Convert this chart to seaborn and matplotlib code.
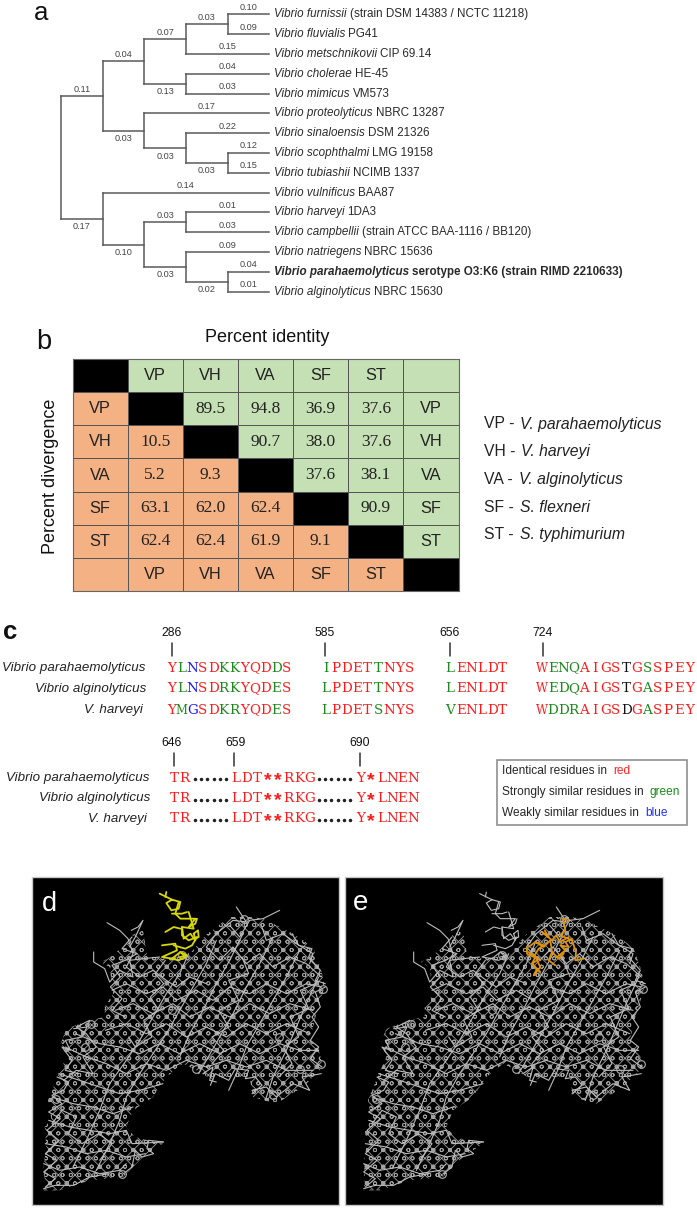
import matplotlib
matplotlib.use("Agg")
import matplotlib.pyplot as plt
from matplotlib.colors import ListedColormap
from matplotlib.patches import Polygon, Rectangle
import numpy as np
import seaborn as sns

# panel a
SPECIES = ["Vibrio furnissii", "Vibrio fluvialis", "Vibrio metschnikovii", "Vibrio cholerae",
           "Vibrio mimicus", "Vibrio proteolyticus", "Vibrio sinaloensis", "Vibrio scophthalmi",
           "Vibrio tubiashii", "Vibrio vulnificus", "Vibrio harveyi", "Vibrio campbellii",
           "Vibrio natriegens", "Vibrio parahaemolyticus", "Vibrio alginolyticus"]
STRAINS = ["(strain DSM 14383 / NCTC 11218)", "PG41", "CIP 69.14", "HE-45", "VM573", "NBRC 13287",
           "DSM 21326", "LMG 19158", "NCIMB 1337", "BAA87", "1DA3", "(strain ATCC BAA-1116 / BB120)",
           "NBRC 15636", "serotype O3:K6 (strain RIMD 2210633)", "NBRC 15630"]
TREE = ("", [
    ("0.11", [
        ("0.04", [
            ("0.07", [("0.03", [("0.10", 0), ("0.09", 1)]), ("0.15", 2)]),
            ("0.13", [("0.04", 3), ("0.03", 4)])]),
        ("0.03", [
            ("0.17", 5),
            ("0.03", [("0.22", 6), ("0.03", [("0.12", 7), ("0.15", 8)])])])]),
    ("0.17", [
        ("0.14", 9),
        ("0.10", [
            ("0.03", [("0.01", 10), ("0.03", 11)]),
            ("0.03", [("0.09", 12), ("0.02", [("0.04", 13), ("0.01", 14)])])])])])

# panel b
TAXA = ["VP", "VH", "VA", "SF", "ST"]
TAXA_LONG = ["V. parahaemolyticus", "V. harveyi", "V. alginolyticus", "S. flexneri", "S. typhimurium"]
IDENTITY = [["", "89.5", "94.8", "36.9", "37.6"],
            ["", "", "90.7", "38.0", "37.6"],
            ["", "", "", "37.6", "38.1"],
            ["", "", "", "", "90.9"],
            ["", "", "", "", ""]]
DIVERGENCE = [["", "", "", "", ""],
              ["10.5", "", "", "", ""],
              ["5.2", "9.3", "", "", ""],
              ["63.1", "62.0", "62.4", "", ""],
              ["62.4", "62.4", "61.9", "9.1", ""]]

# panel c
NAMES = ["Vibrio parahaemolyticus", "Vibrio alginolyticus", "V. harveyi"]
BLOCKS_TOP = [
    (["YLNSDKKYQDDS", "YLNSDRKYQDES", "YMGSDKRYQDES"],
     ["rgbrrggrrrgr", "rgbrrggrrrgr", "rgbrrggrrrgr"]),
    (["IPDETTNYS", "LPDETTNYS", "LPDETSNYS"],
     ["grrrrgrrr", "grrrrgrrr", "grrrrgrrr"]),
    (["LENLDT", "LENLDT", "VENLDT"],
     ["grrrrr", "grrrrr", "grrrrr"]),
    (["WENQAIGSTGSSPEY", "WEDQAIGSTGASPEY", "WDDRAIGSDGASPEY"],
     ["rgggrrrrkrgrrrr", "rgggrrrrkrgrrrr", "rgggrrrrkrgrrrr"]),
]
BLOCK_STARTS = [166, 320.5, 445, 537]
BOTTOM_PARTS = ["TR", "LDT**RKG", "Y*LNEN"]
TOP_TICKS = [("286", 172), ("585", 325), ("656", 449.5), ("724", 543)]
BOTTOM_TICKS = [("646", 174), ("659", 234), ("690", 360)]
LEGEND_ROWS = [("Identical residues in ", "red", "#ff2020"),
               ("Strongly similar residues in ", "green", "#1a8a1a"),
               ("Weakly similar residues in ", "blue", "#2030ff")]

# panels d and e at 3x, relative to the panel corner
BODY_OUTLINE = [(35, 940), (38, 915), (35, 865), (43, 810), (38, 750), (58, 725), (48, 670), (83, 585),
                (103, 540), (88, 495), (103, 455), (173, 430), (218, 420), (218, 390), (243, 350),
                (233, 270), (205, 255), (228, 245), (293, 195), (300, 175), (333, 160), (345, 235),
                (390, 245), (470, 235), (520, 175), (593, 120), (653, 120), (693, 125), (783, 170),
                (843, 210), (868, 280), (878, 330), (853, 410), (833, 490), (858, 510), (873, 570),
                (813, 630), (733, 680), (663, 660), (653, 600), (583, 600), (543, 610), (493, 580),
                (453, 560), (403, 600), (363, 660), (303, 700), (283, 750), (308, 780), (393, 800),
                (333, 840), (273, 900), (173, 910), (83, 940)]
RINGS = [(176, 440), (872, 335), (867, 560), (493, 575), (723, 655), (803, 577), (72, 665), (270, 890),
         (450, 235), (635, 125), (160, 510), (740, 480), (420, 400)]
STRANDS = [
    [(185, 225), (185, 255), (218, 275), (233, 315), (263, 280), (303, 300), (293, 250), (333, 245), (383, 240)],
    [(225, 137), (263, 160), (288, 185), (303, 230), (283, 270), (323, 300), (363, 280), (403, 310), (433, 330), (473, 300), (523, 320)],
    [(293, 210), (310, 180), (333, 130), (318, 150), (298, 160)],
    [(240, 340), (283, 320), (343, 350), (393, 330), (433, 370), (493, 340), (543, 370), (593, 330), (653, 350), (703, 320), (763, 350), (823, 320), (868, 330)],
    [(250, 400), (303, 380), (363, 410), (423, 380), (473, 420), (533, 390), (593, 420), (653, 380), (713, 410), (773, 380), (843, 400)],
    [(220, 460), (283, 440), (343, 470), (403, 440), (463, 480), (523, 450), (583, 480), (643, 440), (703, 470), (763, 440), (833, 470)],
    [(130, 470), (203, 500), (263, 510), (323, 530), (383, 500), (443, 530), (503, 500), (563, 530), (623, 500), (683, 530), (743, 500), (803, 520), (860, 520)],
    [(100, 510), (163, 540), (223, 560), (283, 590), (343, 560), (403, 580), (463, 550), (523, 570), (583, 550), (643, 570), (703, 550), (763, 580), (843, 580)],
    [(80, 590), (143, 610), (203, 630), (263, 650), (323, 640), (393, 620)],
    [(60, 660), (123, 680), (183, 690), (243, 710), (303, 690)],
    [(50, 730), (113, 750), (173, 760), (233, 770), (283, 760), (300, 800), (393, 795)],
    [(40, 800), (103, 810), (163, 830), (223, 820), (283, 840), (340, 830)],
    [(35, 860), (83, 880), (143, 870), (203, 890), (263, 880), (283, 860)],
    [(35, 935), (70, 925), (125, 925), (173, 900), (230, 890)],
    [(593, 145), (623, 180), (653, 130), (693, 125), (743, 100)],
    [(613, 90), (643, 135), (603, 130), (553, 170), (523, 210), (563, 250), (603, 210), (643, 260), (683, 230), (723, 270), (773, 240), (823, 260), (868, 300)],
    [(690, 150), (703, 190), (753, 170), (793, 200), (843, 230), (833, 260)],
    [(470, 230), (443, 290), (403, 350), (363, 420), (323, 490), (283, 550), (233, 620), (203, 700), (163, 790), (123, 870)],
    [(553, 190), (523, 260), (483, 330), (443, 400), (403, 470), (363, 530), (323, 590), (283, 660), (263, 730), (233, 800), (193, 880)],
    [(633, 170), (593, 250), (553, 320), (513, 400), (473, 470), (443, 540)],
    [(723, 180), (683, 260), (643, 330), (603, 410), (563, 480), (523, 550), (500, 590)],
    [(803, 220), (763, 300), (723, 370), (683, 440), (643, 510), (613, 590), (590, 640)],
    [(860, 300), (823, 380), (793, 450), (763, 520), (723, 600), (700, 670)],
    [(660, 640), (703, 630), (733, 660), (783, 620), (833, 640), (810, 600), (868, 590)],
    [(513, 590), (543, 570), (533, 610), (553, 615)],
    [(95, 610), (133, 580), (183, 590), (153, 540), (193, 510), (163, 470), (133, 450), (173, 430)],
    [(60, 740), (90, 700), (133, 720), (110, 770), (150, 800), (200, 770), (240, 800), (203, 850)],
    [(75, 600), (110, 615), (95, 640), (60, 655), (90, 680), (50, 705), (85, 725), (45, 760), (80, 790), (40, 830), (75, 850), (35, 885), (70, 905), (40, 930)],
    [(395, 795), (350, 790), (345, 815), (365, 830), (330, 840), (310, 820), (300, 870), (275, 890)],
    [(660, 650), (690, 625), (670, 600), (640, 605), (650, 580), (610, 575), (590, 610), (550, 590), (535, 625)],
    [(880, 330), (850, 345), (865, 390), (840, 420), (860, 450), (835, 490), (860, 510), (835, 545), (870, 570)],
    [(780, 170), (800, 205), (840, 215), (830, 240), (865, 280), (850, 310), (880, 320)],
    [(125, 455), (165, 450), (150, 480), (100, 490), (115, 520), (90, 510), (120, 550), (100, 580), (140, 590)],
    [(300, 180), (270, 215), (315, 230), (280, 250), (240, 265), (265, 300), (235, 330), (270, 365), (240, 400), (280, 420)],
    [(400, 250), (370, 290), (395, 320), (355, 360), (380, 400), (335, 430), (360, 480), (310, 510), (290, 480)],
    [(540, 560), (575, 520), (540, 480), (590, 450), (560, 400), (620, 370), (590, 310), (650, 290), (630, 240)],
    [(740, 600), (780, 560), (755, 510), (800, 480), (775, 420), (830, 395), (805, 340), (850, 320)],
]
HIGHLIGHT_D = [
    [(383, 50), (420, 68), (445, 75), (440, 95), (418, 100), (403, 78), (420, 68)],
    [(403, 45), (400, 60)],
    [(440, 75), (430, 110), (445, 125), (470, 125), (490, 125), (470, 150), (490, 140), (495, 125)],
    [(420, 110), (450, 110), (465, 105)],
    [(470, 105), (485, 155), (450, 150), (450, 175), (470, 190), (495, 180), (480, 205), (460, 215), (425, 205)],
    [(400, 165), (425, 150), (445, 155)],
    [(450, 150), (455, 185), (475, 170), (490, 190)],
    [(485, 170), (498, 160), (500, 180), (490, 185), (485, 170)],
    [(390, 205), (430, 200), (435, 220), (390, 240), (420, 245), (445, 225), (460, 240), (440, 250), (420, 245)],
    [(445, 225), (465, 235), (445, 240)],
]
HIGHLIGHT_E = [
    [(633, 125), (640, 160), (625, 175), (660, 190), (672, 225), (670, 250), (695, 245)],
    [(630, 125), (648, 130)],
    [(578, 160), (590, 180), (570, 165), (600, 190), (612, 175), (625, 195), (650, 180)],
    [(530, 210), (550, 195), (575, 210), (595, 190), (600, 225), (590, 250), (610, 265)],
    [(525, 210), (525, 230), (545, 240), (560, 215), (575, 205), (550, 195)],
    [(530, 225), (565, 250)],
    [(550, 240), (540, 260), (555, 275), (545, 295), (565, 270), (555, 250), (540, 260)],
    [(565, 285), (555, 275)],
    [(615, 240), (640, 220), (625, 205), (650, 210), (640, 195), (660, 185)],
    [(600, 225), (620, 245), (635, 230)],
]

PX_W, PX_H = 697, 1208
SANS = "Liberation Sans"


def rich_text(ax, renderer, x, y, parts, **kw):
    # puts text pieces one after another, measuring each one
    for txt, style, gap in parts:
        t = ax.text(x, y, txt, va="center", ha="left", **style, **kw)
        x = t.get_window_extent(renderer).x1 + gap
    return x


def tree_layout(node, depth, segs, labels, tips):
    # returns the y of the node, gathers lines and branch labels on the way
    children = node[1]
    if isinstance(children, int):
        return tips[children], []
    ys = []
    x_here = 61 + depth * 41.7
    for i, child in enumerate(children):
        y, _ = tree_layout(child, depth + 1, segs, labels, tips)
        ys.append(y)
        is_tip = isinstance(child[1], int)
        x_end = 269 if is_tip else 61 + (depth + 1) * 41.7
        segs.append(([x_here, x_end], [y, y]))
        below = i == 1 and not is_tip
        labels.append(((x_here + x_end) / 2, y + (8 if below else -7), child[0]))
    segs.append(([x_here, x_here], [ys[0], ys[-1]]))
    return (ys[0] + ys[-1]) / 2, ys


def draw_tree(ax, renderer):
    tips = [14.3 + i * 19.81 for i in range(len(SPECIES))]
    segs, labels = [], []
    tree_layout(TREE, 0, segs, labels, tips)
    for xs, ys in segs:
        ax.plot(xs, ys, color="#5a5a5a", lw=1.1, solid_capstyle="projecting")
    for x, y, txt in labels:
        ax.text(x, y, txt, fontsize=6.6, color="#444444", ha="center", va="center")
    for i, (name, strain) in enumerate(zip(SPECIES, STRAINS)):
        if "parahaemolyticus" in name:
            parts = [(name, {"style": "italic", "weight": "bold"}, 3), (strain, {"weight": "bold"}, 0)]
        else:
            parts = [(name, {"style": "italic"}, 3), (strain, {}, 0)]
        rich_text(ax, renderer, 274, tips[i], parts, fontsize=8.4, color="#2a2a2a")


def draw_matrix(fig):
    n = len(TAXA)
    codes = np.zeros((n + 2, n + 2), dtype=int)
    annot = np.full((n + 2, n + 2), "", dtype=object)
    for r in range(n + 2):
        for c in range(n + 2):
            codes[r, c] = 0 if r == c else (1 if c > r else 2)
    for i, t in enumerate(TAXA):
        annot[0, i + 1] = annot[n + 1, i + 1] = annot[i + 1, 0] = annot[i + 1, n + 1] = t
        for j in range(n):
            annot[i + 1, j + 1] = IDENTITY[i][j] or DIVERGENCE[i][j]
    ax = fig.add_axes([72.5 / PX_W, 1 - 591 / PX_H, 386 / PX_W, 232 / PX_H])
    sns.heatmap(codes, ax=ax, cmap=ListedColormap(["#000000", "#C5E0B4", "#F4B183"]), vmin=0, vmax=2,
                cbar=False, annot=annot, fmt="", linewidths=0.7, linecolor="#555555",
                xticklabels=False, yticklabels=False, annot_kws={"color": "#222222", "fontsize": 11.8})
    for t in ax.texts:
        if t.get_text() not in TAXA:
            t.set_family("Liberation Serif")
            t.set_fontsize(12.5)
    for s in ax.spines.values():
        s.set_visible(True)
        s.set_color("#666666")
        s.set_linewidth(0.8)


def residue_size(ch):
    # the wide letters would run into the next cell otherwise
    return 8.4 if ch in "MW" else 9.7


def draw_alignment(ax, renderer):
    colors = {"r": "#ff1a1a", "g": "#1a8a1a", "b": "#1a1aff", "k": "#111111"}
    pitch = 10.5
    for (seqs, cols), x0 in zip(BLOCKS_TOP, BLOCK_STARTS):
        for row, (seq, col) in enumerate(zip(seqs, cols)):
            for k, (ch, c) in enumerate(zip(seq, col)):
                ax.text(x0 + (k + 0.5) * pitch, 668 + row * 21, ch, color=colors[c], family="DejaVu Serif",
                        fontsize=residue_size(ch), ha="center", va="center")
    for row in range(3):
        y = 778 + row * 20.5
        for part, x0 in zip(BOTTOM_PARTS, [169, 231, 355]):
            for k, ch in enumerate(part):
                star = ch == "*"
                ax.text(x0 + (k + 0.5) * pitch, y + (2.5 if star else 0), ch, color=colors["r"],
                        family="Liberation Mono" if star else "DejaVu Serif", weight="bold" if star else "normal",
                        fontsize=14 if star else residue_size(ch), ha="center", va="center")
        for x0 in [195, 319]:
            ax.plot(np.arange(6) * 6.2 + x0, [y + 1] * 6, ls="", marker="o", ms=1.5, color="#222222")
    for rows_y, step, right in [(668, 21, [145, 146, 143]), (778, 20.5, [149, 150, 147])]:
        for row, name in enumerate(NAMES):
            ax.text(right[row], rows_y + row * step, name, style="italic", fontsize=9.6, ha="right", va="center",
                    color="#222222")
    for (txt, x), ty, (t0, t1) in zip(TOP_TICKS + BOTTOM_TICKS, [633] * 4 + [743] * 3,
                                      [(643, 656)] * 4 + [(753, 766)] * 3):
        tx = {"646": 172, "659": 235.5}.get(txt, x)
        ax.text(tx, ty, txt, fontsize=8.8, ha="center", va="center", color="#111111")
        ax.plot([x, x], [t0, t1], color="#333333", lw=1.1)
    ax.add_patch(Rectangle((497, 760), 190, 65, fill=False, ec="#909090", lw=1.2))
    for row, (lead, word, c) in zip(range(3), LEGEND_ROWS):
        rich_text(ax, renderer, 502, 771 + row * 21, [(lead, {}, 3), (word, {"color": c}, 0)], fontsize=8.6)


def draw_molecule(ax, left, top, width, height, highlight, hl_color, dx, extra):
    ax.add_patch(Rectangle((left, top), width, height, fc="black", ec="#c8c8c8", lw=1))
    to_px = lambda pts: (left + dx + np.array([p[0] for p in pts]) / 3, top + np.array([p[1] for p in pts]) / 3)
    xs, ys = to_px(BODY_OUTLINE)
    ax.add_patch(Polygon(np.column_stack([xs, ys]), closed=True, fill=False, ec="#a0a0a0", lw=0, hatch="xxoo"))
    for s in STRANDS + extra:
        ax.plot(*to_px(s), color="#bdbdbd", lw=0.8)
    rx, ry = to_px(RINGS)
    ax.plot(rx, ry, ls="", marker="o", ms=5.5, mfc="none", mec="#b0b0b0", mew=0.8)
    for s in highlight:
        ax.plot(*to_px(s), color=hl_color, lw=1.3)


def main():
    sns.set_style("white")
    plt.rcParams["font.family"] = [SANS, "DejaVu Sans"]
    plt.rcParams["hatch.linewidth"] = 0.6
    fig = plt.figure(figsize=(PX_W / 100, PX_H / 100), dpi=100)
    ax = fig.add_axes([0, 0, 1, 1])
    ax.set_xlim(0, PX_W)
    ax.set_ylim(PX_H, 0)
    ax.axis("off")
    renderer = fig.canvas.get_renderer()

    ax.text(41, 20, "a", fontsize=18.5, ha="center", va="baseline", color="#111111")
    draw_tree(ax, renderer)

    ax.text(44, 349, "b", fontsize=19.5, ha="center", va="baseline", color="#111111")
    ax.text(267, 338, "Percent identity", fontsize=13, ha="center", va="center", color="#111111")
    ax.text(51, 476, "Percent divergence", fontsize=13, rotation=90, ha="center", va="center", color="#111111")
    draw_matrix(fig)
    for i, (t, name) in enumerate(zip(TAXA, TAXA_LONG)):
        rich_text(ax, renderer, 484, 424 + i * 27.7,
                  [(t + " - ", {}, 1.5), (name, {"style": "italic"}, 0)], fontsize=11.3, color="#222222")

    ax.text(10.5, 639, "c", fontsize=18.5, ha="center", va="baseline", color="#111111", weight="bold")
    draw_alignment(ax, renderer)

    draw_molecule(ax, 32, 877, 307, 328, HIGHLIGHT_D, "#d8d800", 0, [])
    draw_molecule(ax, 345, 877, 318, 328, HIGHLIGHT_E, "#e0920a", 7, HIGHLIGHT_D)
    ax.text(49, 911, "d", fontsize=19.5, ha="center", va="baseline", color="white")
    ax.text(361, 910, "e", fontsize=20, ha="center", va="baseline", color="white")

    fig.savefig("out.png", dpi=100)


if __name__ == "__main__":
    main()
